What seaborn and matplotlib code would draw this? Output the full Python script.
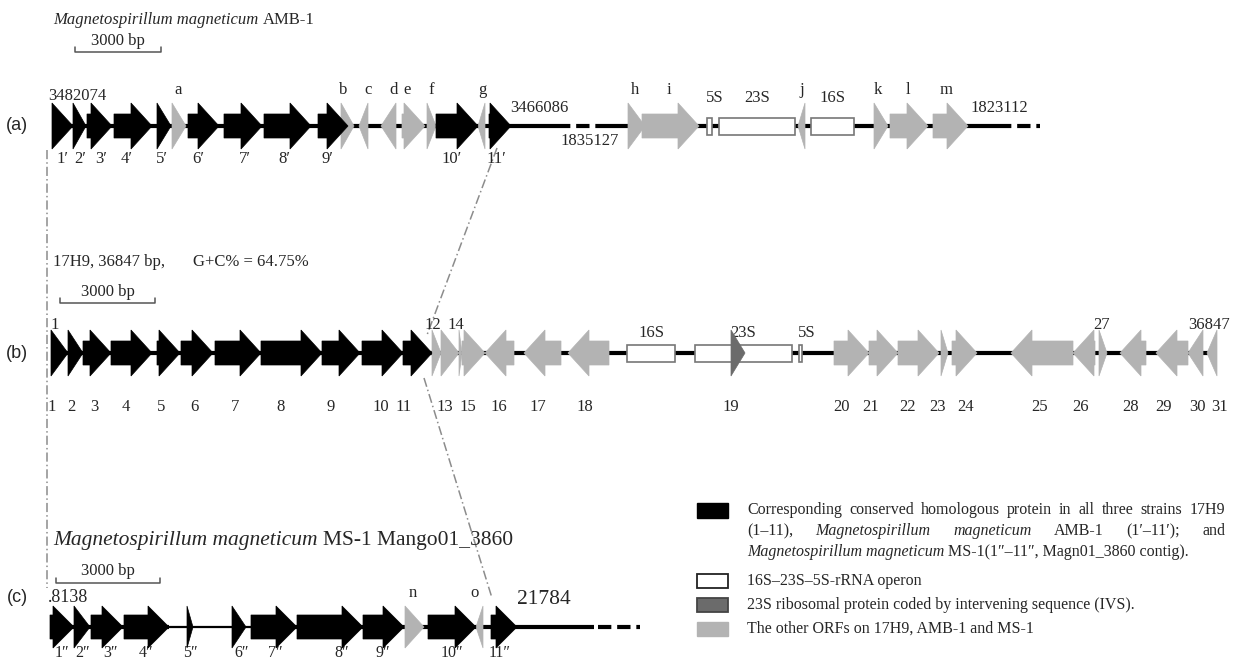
import matplotlib
matplotlib.use('Agg')
import matplotlib.pyplot as plt
from matplotlib.patches import Rectangle
import seaborn as sns

sns.set_theme(style='white')
plt.rcParams['font.family'] = ['Liberation Serif', 'DejaVu Serif']

# Track (a): Magnetospirillum magneticum AMB-1 (map units)
a_start = [52, 73, 87, 114, 157, 172, 188, 224, 264, 318, 341, 359, 381, 402, 427, 436, 478, 489, 628, 642, 798, 874, 890, 933]
a_end = [73, 86, 112, 152, 171, 186, 219, 262, 311, 348, 354, 368, 396, 425, 436, 478, 485, 511, 645, 699, 805, 888, 928, 968]
a_strand = [1, 1, 1, 1, 1, 1, 1, 1, 1, 1, 1, -1, -1, 1, 1, 1, -1, 1, 1, 1, -1, 1, 1, 1]
a_kind = ['k', 'k', 'k', 'k', 'k', 'g', 'k', 'k', 'k', 'k', 'g', 'g', 'g', 'g', 'g', 'k', 'g', 'k', 'g', 'g', 'g', 'g', 'g', 'g']
a_rrna_start = [707, 719, 811]
a_rrna_end = [712, 795, 854]
a_rrna_names = ['5S', '23S', '16S']
a_top = ['a', 'b', 'c', 'd', 'e', 'f', 'g', 'h', 'i', 'j', 'k', 'l', 'm']
a_top_x = [178, 343, 368, 394, 407, 431, 482, 635, 669, 802, 878, 908, 946]
a_bottom = ['1′', '2′', '3′', '4′', '5′', '6′', '7′', '8′', '9′', '10′', '11′']
a_bottom_x = [62, 80, 101, 127, 162, 198, 245, 284, 327, 452, 496]

# Track (b): 17H9 fosmid
b_start = [51, 68, 83, 111, 157, 181, 215, 261, 322, 362, 403, 432, 441, 459, 462, 485, 524, 568, 731, 834, 869, 898, 941, 952, 1011, 1073, 1099, 1120, 1156, 1188, 1207]
b_end = [68, 83, 111, 152, 180, 213, 261, 322, 360, 403, 432, 441, 459, 462, 485, 514, 561, 609, 745, 869, 898, 939, 948, 977, 1073, 1095, 1107, 1146, 1188, 1203, 1217]
b_strand = [1] * 15 + [-1, -1, -1, 1, 1, 1, 1, 1, 1, -1, -1, 1, -1, -1, -1, -1]
b_kind = ['k'] * 11 + ['g'] * 7 + ['d'] + ['g'] * 12
b_rrna_start = [627, 695, 799]
b_rrna_end = [675, 792, 802]
b_rrna_names = ['16S', '23S', '5S']
b_top = ['1', '12', '14', '27', '36847']
b_top_x = [55, 433, 456, 1102, 1209]
b_bottom = ['1', '2', '3', '4', '5', '6', '7', '8', '9', '10', '11', '13', '15', '16', '17', '18',
            '19', '20', '21', '22', '23', '24', '25', '26', '28', '29', '30', '31']
b_bottom_x = [52, 71, 94, 126, 161, 194, 235, 281, 331, 381, 404, 445, 468, 499, 538, 585,
              731, 841, 871, 908, 937, 966, 1040, 1081, 1131, 1164, 1197, 1219]

# Track (c): Magnetospirillum magneticum MS-1
c_start = [50, 74, 91, 124, 187, 232, 251, 297, 363, 405, 428, 476, 491]
c_end = [74, 90, 123, 169, 193, 246, 297, 363, 404, 424, 476, 483, 517]
c_strand = [1, 1, 1, 1, 1, 1, 1, 1, 1, 1, 1, -1, 1]
c_kind = ['k'] * 9 + ['g', 'k', 'g', 'k']
c_top = ['n', 'o']
c_top_x = [413, 475]
c_bottom = ['1″', '2″', '3″', '4″', '5″', '6″', '7″', '8″', '9″', '10″', '11″']
c_bottom_x = [62, 83, 110, 146, 190, 242, 275, 342, 383, 452, 500]

COLORS = {'k': 'black', 'g': '#b3b3b3', 'd': '#6b6b6b'}
ZORDER = {'k': 4, 'g': 3, 'd': 5}
YA, YB, YC = 126, 353, 627
BODY, HEAD = 12, 21
FS = 12

fig = plt.figure(figsize=(12.33, 6.63), dpi=100)
ax = fig.add_axes([0, 0, 1, 1])
ax.set_xlim(0, 1233)
ax.set_ylim(663, 0)
ax.axis('off')
renderer = fig.canvas.get_renderer()


def gene(x0, x1, yc, strand, kind, half):
    h = min(HEAD, x1 - x0)
    if strand > 0:
        xs = [x0, x1 - h, x1 - h, x1, x1 - h, x1 - h, x0]
    else:
        xs = [x1, x0 + h, x0 + h, x0, x0 + h, x0 + h, x1]
    ys = [yc - BODY, yc - BODY, yc - half, yc, yc + half, yc + BODY, yc + BODY]
    ax.fill(xs, ys, color=COLORS[kind], lw=0.5, ec=COLORS[kind], zorder=ZORDER[kind])


def track(starts, ends, strands, kinds, yc, half=23):
    for x0, x1, s, k in zip(starts, ends, strands, kinds):
        gene(x0, x1, yc, s, k, half)


def rrna(starts, ends, yc):
    for x0, x1 in zip(starts, ends):
        ax.add_patch(Rectangle((x0, yc - 8.5), x1 - x0, 17, fc='white', ec='#777777', lw=1.2, zorder=3))


def backbone(x0, x1, yc, lw=3.0, dashed=False):
    ls = (0, (3.2, 1.4)) if dashed else '-'
    ax.plot([x0, x1], [yc, yc], color='black', lw=lw, ls=ls, zorder=2, solid_capstyle='butt')


def width(t):
    return t.get_window_extent(renderer).width


def rich(x, y, parts, size=FS, va='center'):
    sp = None
    for txt, st in parts:
        t = ax.text(x, y, txt, fontsize=size, style=st, va=va, ha='left')
        x += width(t)
        if sp is None:
            a = ax.text(0, 0, 'aa', fontsize=size)
            b = ax.text(0, 0, 'a a', fontsize=size)
            sp = width(b) - width(a)
            a.remove()
            b.remove()
        x += sp


def justify(x0, x1, y, parts, size=FS):
    ts = [ax.text(x0, y, w, fontsize=size, style=st, va='center', ha='left') for w, st in parts]
    ws = [width(t) for t in ts]
    gap = (x1 - x0 - sum(ws)) / (len(ts) - 1)
    x = x0
    for t, w in zip(ts, ws):
        t.set_x(x)
        x += w + gap


def scalebar(x0, x1, y, ty):
    ax.plot([x0, x0, x1, x1], [y - 5, y, y, y - 5], color='#555555', lw=1.1)
    ax.text((x0 + x1) / 2, ty, '3000 bp', fontsize=FS, ha='center', va='center')


# ---- (a) ----
rich(53, 20, [('Magnetospirillum magneticum', 'italic'), ('AMB-1', 'normal')])
scalebar(75, 161, 52, 41)
ax.text(17, YA, '(a)', family='Liberation Sans', fontsize=13, ha='center', va='center')
backbone(52, 557, YA)
backbone(557, 600, YA, dashed=True)
backbone(600, 998, YA)
backbone(998, 1040, YA, dashed=True)
track(a_start, a_end, a_strand, a_kind, YA)
rrna(a_rrna_start, a_rrna_end, YA)
for t, x in zip(a_top, a_top_x):
    ax.text(x, 90, t, fontsize=FS, ha='center', va='center')
for t, s, e in zip(a_rrna_names, a_rrna_start, a_rrna_end):
    ax.text((s + e) / 2 + (5 if t == '5S' else 0), 98, t, fontsize=FS, ha='center', va='center')
for t, x in zip(a_bottom, a_bottom_x):
    ax.text(x, 159, t, fontsize=FS, ha='center', va='center')
ax.text(48, 96, '3482074', fontsize=FS, ha='left', va='center')
ax.text(510, 108, '3466086', fontsize=FS, ha='left', va='center')
ax.text(590, 141, '1835127', fontsize=FS, ha='center', va='center')
ax.text(970, 108, '1823112', fontsize=FS, ha='left', va='center')

# ---- (b) ----
ax.text(53, 262, '17H9, 36847 bp,', fontsize=FS, ha='left', va='center')
ax.text(193, 262, 'G+C% = 64.75%', fontsize=FS, ha='left', va='center')
scalebar(60, 155, 303, 292)
ax.text(17, YB, '(b)', family='Liberation Sans', fontsize=13, ha='center', va='center')
backbone(51, 1217, YB)
track(b_start, b_end, b_strand, b_kind, YB)
rrna(b_rrna_start, b_rrna_end, YB)
for t, x in zip(b_top, b_top_x):
    ax.text(x, 325, t, fontsize=FS, ha='center', va='center')
for t, s, e in zip(b_rrna_names, b_rrna_start, b_rrna_end):
    ax.text((s + e) / 2 + (6 if t == '5S' else 0), 333, t, fontsize=FS, ha='center', va='center')
for t, x in zip(b_bottom, b_bottom_x):
    ax.text(x, 407, t, fontsize=FS, ha='center', va='center')

# ---- (c) ----
rich(53, 540, [('Magnetospirillum magneticum', 'italic'), ('MS-1 Mango01_3860', 'normal')], size=15.5)
scalebar(56, 160, 583, 571)
ax.text(17, 597, '(c)', family='Liberation Sans', fontsize=13, ha='center', va='center')
backbone(50, 169, YC, lw=3.0)
backbone(169, 251, YC, lw=1.6)
backbone(251, 594, YC, lw=3.0)
backbone(598, 640, YC, lw=3.0, dashed=True)
track(c_start, c_end, c_strand, c_kind, YC, half=21)
for t, x in zip(c_top, c_top_x):
    ax.text(x, 593, t, fontsize=FS, ha='center', va='center')
for t, x in zip(c_bottom, c_bottom_x):
    ax.text(x, 653, t, fontsize=11.5, ha='center', va='center')
ax.text(48, 598, '.8138', fontsize=13, ha='left', va='center')
ax.text(517, 599, '21784', fontsize=15.5, ha='left', va='center')

# ---- connectors ----
dash = (0, (6, 2, 1, 2))
sns.lineplot(x=[47, 47], y=[150, 588], ax=ax, color='#8c8c8c', lw=1.1, linestyle=dash, estimator=None, sort=False)
sns.lineplot(x=[497, 427], y=[148, 335], ax=ax, color='#8c8c8c', lw=1.1, linestyle=dash, estimator=None, sort=False)
sns.lineplot(x=[424, 492], y=[378, 598], ax=ax, color='#8c8c8c', lw=1.1, linestyle=dash, estimator=None, sort=False)

# ---- legend ----
LX0, LX1 = 747, 1225
ax.add_patch(Rectangle((697, 503), 31, 15, fc='black', ec='black', lw=1))
justify(LX0, LX1, 510, [(w, 'normal') for w in 'Corresponding conserved homologous protein in all three strains 17H9'.split()], size=11.5)
justify(LX0, LX1, 531, [('(1–11),', 'normal'), ('Magnetospirillum', 'italic'), ('magneticum', 'italic'),
                         ('AMB-1', 'normal'), ('(1′–11′);', 'normal'), ('and', 'normal')], size=11.5)
rich(LX0, 552, [('Magnetospirillum magneticum', 'italic'), ('MS-1(1″–11″, Magn01_3860 contig).', 'normal')], size=11.5)
ax.add_patch(Rectangle((697, 574), 31, 14, fc='white', ec='#222222', lw=1.3))
ax.text(LX0, 581, '16S–23S–5S-rRNA operon', fontsize=11.5, ha='left', va='center')
ax.add_patch(Rectangle((697, 598), 31, 14, fc='#6b6b6b', ec='#444444', lw=1.3))
ax.text(LX0, 605, '23S ribosomal protein coded by intervening sequence (IVS).', fontsize=11.5, ha='left', va='center')
ax.add_patch(Rectangle((697, 622), 31, 14, fc='#b3b3b3', ec='#b3b3b3', lw=1))
ax.text(LX0, 629, 'The other ORFs on 17H9, AMB-1 and MS-1', fontsize=11.5, ha='left', va='center')

fig.savefig('out.png', dpi=100)
